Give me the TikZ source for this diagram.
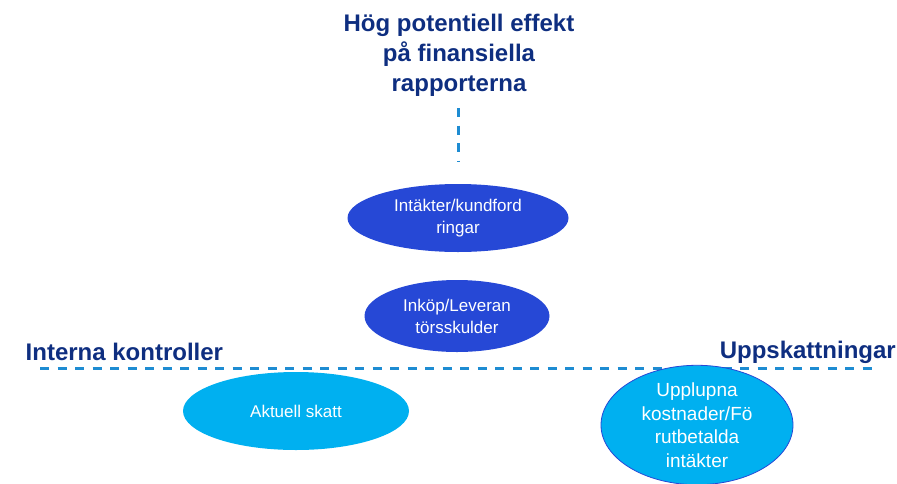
\documentclass[tikz,border=0pt]{standalone}
\usepackage{fontspec}
\setmainfont{Liberation Sans}
\usetikzlibrary{shapes.geometric, positioning}
\definecolor{titelblau}{RGB}{14,46,128}
\definecolor{morkblau}{RGB}{38,72,214}
\definecolor{ljusblau}{RGB}{0,176,240}
\definecolor{streckblau}{RGB}{30,140,210}

\begin{document}
\begin{tikzpicture}[x=1pt, y=-1pt,
			rubrik/.style={font=\fontsize{24}{30}\selectfont\bfseries, text=titelblau, align=center, inner sep=0pt},
			oval/.style={ellipse, inner sep=0pt, align=center, text=white, font=\fontsize{17}{22}\selectfont},
			linje/.style={draw=streckblau, line width=3pt, dash pattern=on 9pt off 8.5pt}]
			
			\useasboundingbox (0,0) rectangle (897,483);
			
			% Rubriker
			\node[rubrik] (effekt) at (459,55) {Hög potentiell effekt\\på finansiella\\rapporterna};
			\node[rubrik, anchor=base west] (interna) at (25.5,360.6) {Interna kontroller};
			\node[rubrik, anchor=base east] (uppsk) at (896,358.6) {Uppskattningar};
			
			% Streckade axlar
			\coordinate (vtopp) at (458,108);
			\coordinate (vbotten) at (458,162);
			\coordinate (hvanster) at (40,368);
			\coordinate (hhoger) at (876,368);
			\draw[linje] (vtopp) -- (vbotten);
			\draw[linje] (hvanster) -- (hhoger);
			
			% Ellipser
			\node[oval, fill=morkblau, minimum width=221pt, minimum height=68pt] (intakter) at (458,218) {Intäkter/kundford\\ringar};
			\node[oval, fill=morkblau, minimum width=185pt, minimum height=72pt] (inkop) at (457,316) {Inköp/Leveran\\törsskulder};
			\node[oval, fill=ljusblau, minimum width=226pt, minimum height=78pt] (skatt) at (296,411) {Aktuell skatt};
			\node[oval, fill=ljusblau, draw=morkblau, line width=0.8pt, minimum width=192pt, minimum height=112pt,
				font=\fontsize{19}{23.5}\selectfont] (upplupna) at (697,425) {Upplupna\\kostnader/Fö\\rutbetalda\\intäkter};
		\end{tikzpicture}
\end{document}
